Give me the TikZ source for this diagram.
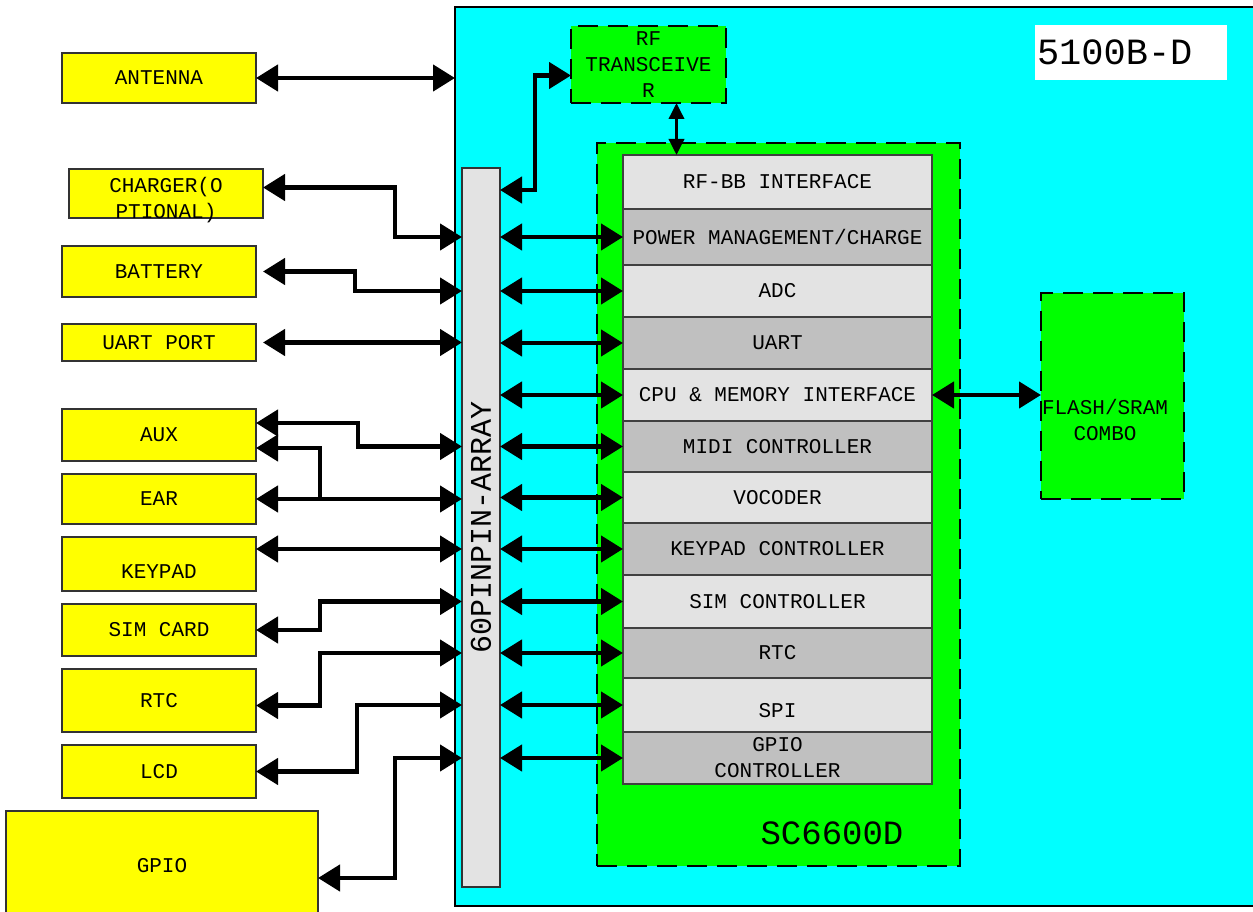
\documentclass[tikz,border=0pt]{standalone}
\usepackage{fontspec}
\newfontfamily\monofam{Liberation Mono}
\newcommand{\blkfont}{\monofam\fontsize{21}{26}\selectfont}
\newcommand{\pinlblfont}{\monofam\fontsize{30}{34}\selectfont}
\newcommand{\chipnamefont}{\monofam\fontsize{34}{38}\selectfont}
\newcommand{\modelnamefont}{\monofam\fontsize{37}{40}\selectfont}
\usetikzlibrary{arrows.meta}
\definecolor{boardcyan}{HTML}{00FFFF}
\definecolor{chipgreen}{HTML}{00FF00}
\definecolor{extyellow}{HTML}{FFFF00}
\definecolor{rowlight}{HTML}{E3E3E3}
\definecolor{rowdark}{HTML}{C0C0C0}
\tikzset{>={Triangle[length=22pt,width=26pt]}}
\tikzset{
  extblk/.style={draw=black!80, line width=1.5pt, fill=extyellow, anchor=north west,
    inner sep=0pt, outer sep=0pt, minimum width=194pt, align=center, font=\blkfont},
  greenblk/.style={draw, dash pattern=on 20pt off 10pt, line width=2pt, fill=chipgreen,
    anchor=north west, inner sep=0pt, outer sep=0pt, align=center, font=\blkfont},
  lrow/.style={draw=black!75, line width=2pt, fill=rowlight, anchor=north west,
    minimum width=309pt, inner sep=0pt, outer sep=0pt, align=center, font=\blkfont},
  drow/.style={lrow, fill=rowdark},
  conn/.style={<->, line width=4.5pt},
}

\begin{document}
\begin{tikzpicture}[x=1pt,y=-1pt]
    \useasboundingbox (0,0) rectangle (1253,912);

    % board and pin array
    \node[draw, line width=1.5pt, fill=boardcyan, anchor=north west, inner sep=0pt, outer sep=0pt,
      minimum width=830pt, minimum height=899pt] (board) at (455,7) {};
    \node[draw=black!80, line width=1.5pt, fill=rowlight, anchor=north west, inner sep=0pt, outer sep=0pt,
      minimum width=38pt, minimum height=719pt,
      label={[rotate=90, font=\pinlblfont]center:60PINPIN-ARRAY}] (pins) at (462,168) {};

    % outside blocks
    \node[extblk, minimum height=50pt] (antenna) at (62,53) {ANTENNA};
    \node[extblk, minimum height=49pt,
      label={[font=\blkfont, align=center, yshift=-7pt]center:CHARGER(O\\PTIONAL)}] (charger) at (69,169) {};
    \node[extblk, minimum height=51pt] (battery) at (62,246) {BATTERY};
    \node[extblk, minimum height=37pt] (uart) at (62,324) {UART PORT};
    \node[extblk, minimum height=52pt] (aux) at (62,409) {AUX};
    \node[extblk, minimum height=50pt] (ear) at (62,474) {EAR};
    \node[extblk, minimum height=54pt, text height=28pt] (keypad) at (62,537) {KEYPAD};
    \node[extblk, minimum height=52pt] (sim) at (62,604) {SIM CARD};
    \node[extblk, minimum height=63pt] (rtc) at (62,669) {RTC};
    \node[extblk, minimum height=53pt] (lcd) at (62,745) {LCD};
    \node[extblk, minimum width=312pt, minimum height=110pt] (gpio) at (6,811) {GPIO};

    % rf part and model name
    \node[greenblk, minimum width=155pt, minimum height=77pt] (rf) at (571,26) {RF\\TRANSCEIVE\\R};
    \node[fill=white, anchor=north west, inner xsep=2pt, inner ysep=0pt, outer sep=0pt,
      text width=188pt, minimum height=55pt, align=left, font=\modelnamefont] (model) at (1035,25) {5100B-D};

    % baseband chip
    \node[greenblk, minimum width=363pt, minimum height=723pt] (chip) at (597,143) {};
    \node[font=\chipnamefont] (chipname) at (832,833) {SC6600D};

    \node[lrow, minimum height=54pt] (rfbb) at (623,155) {RF-BB INTERFACE};
    \node[drow, minimum height=56pt] (pmu) at (623,209) {POWER MANAGEMENT/CHARGE};
    \node[lrow, minimum height=52pt] (adc) at (623,265) {ADC};
    \node[drow, minimum height=52pt] (uartc) at (623,317) {UART};
    \node[lrow, minimum height=52pt] (cpu) at (623,369) {CPU \& MEMORY INTERFACE};
    \node[drow, minimum height=51pt] (midi) at (623,421) {MIDI CONTROLLER};
    \node[lrow, minimum height=51pt] (vocoder) at (623,472) {VOCODER};
    \node[drow, minimum height=52pt] (keyc) at (623,523) {KEYPAD CONTROLLER};
    \node[lrow, minimum height=53pt] (simc) at (623,575) {SIM CONTROLLER};
    \node[drow, minimum height=50pt] (rtcc) at (623,628) {RTC};
    \node[lrow, minimum height=54pt, text height=26pt] (spi) at (623,678) {SPI};
    \node[drow, minimum height=52pt] (gpioc) at (623,732) {GPIO\\CONTROLLER};

    % memory
    \node[greenblk, minimum width=143pt, minimum height=206pt] (flash) at (1041,293) {};
    \node[font=\blkfont, align=center] (flashname) at (1105,420) {FLASH/SRAM\\COMBO};

    % outside blocks to pin array
    \draw[conn] (antenna.east) -- (antenna.east -| board.west);
    \draw[conn] ([yshift=6pt]charger.east) -- ++(132,0) |- (pins.west |- pmu.west);
    \draw[conn] ([xshift=7pt]battery.east) -- ++(92,0) |- (pins.west |- adc.west);
    \draw[conn] ([xshift=7pt]uart.east) -- (uart.east -| pins.west);
    \draw[conn] ([yshift=12pt]aux.east) -- ++(102,0) |- (pins.west |- midi.west);
    \draw[conn] (ear.east) -- (ear.east -| pins.west);
    \coordinate (earj) at ([xshift=64pt]ear.east);
    \draw[<-, line width=4.5pt] ([yshift=-13pt]aux.east) -| (earj);
    \draw[conn] (keypad.east |- keyc.west) -- (pins.west |- keyc.west);
    \draw[conn] (sim.east) -- ++(64,0) |- (pins.west |- simc.west);
    \draw[conn] ([yshift=-5pt]rtc.east) -- ++(64,0) |- (pins.west |- rtcc.west);
    \draw[conn] (lcd.east) -- ++(101,0) |- (pins.west |- spi.west);
    \draw[conn] ([yshift=-12pt]gpio.east) -- ++(77,0) |- (pins.west |- gpioc.west);

    % pin array to chip
    \draw[conn] ([yshift=-22pt]pins.north east) -- ++(35,0) |- ([yshift=-11pt]rf.west);
    \draw[line width=3.5pt, {Triangle[length=16pt,width=15pt]}-{Triangle[length=16pt,width=15pt]}]
      ([xshift=28pt]rf.south) -- ([xshift=28pt]rf.south |- rfbb.north);
    \draw[conn] (pins.east |- pmu.west) -- (pmu.west);
    \draw[conn] (pins.east |- adc.west) -- (adc.west);
    \draw[conn] (pins.east |- uartc.west) -- (uartc.west);
    \draw[conn] (pins.east |- cpu.west) -- (cpu.west);
    \draw[conn] (pins.east |- midi.west) -- (midi.west);
    \draw[conn] (pins.east |- vocoder.west) -- (vocoder.west);
    \draw[conn] (pins.east |- keyc.west) -- (keyc.west);
    \draw[conn] (pins.east |- simc.west) -- (simc.west);
    \draw[conn] (pins.east |- rtcc.west) -- (rtcc.west);
    \draw[conn] (pins.east |- spi.west) -- (spi.west);
    \draw[conn] (pins.east |- gpioc.west) -- (gpioc.west);

    % chip to memory
    \draw[conn] (cpu.east) -- (cpu.east -| flash.west);

\end{tikzpicture}
\end{document}
